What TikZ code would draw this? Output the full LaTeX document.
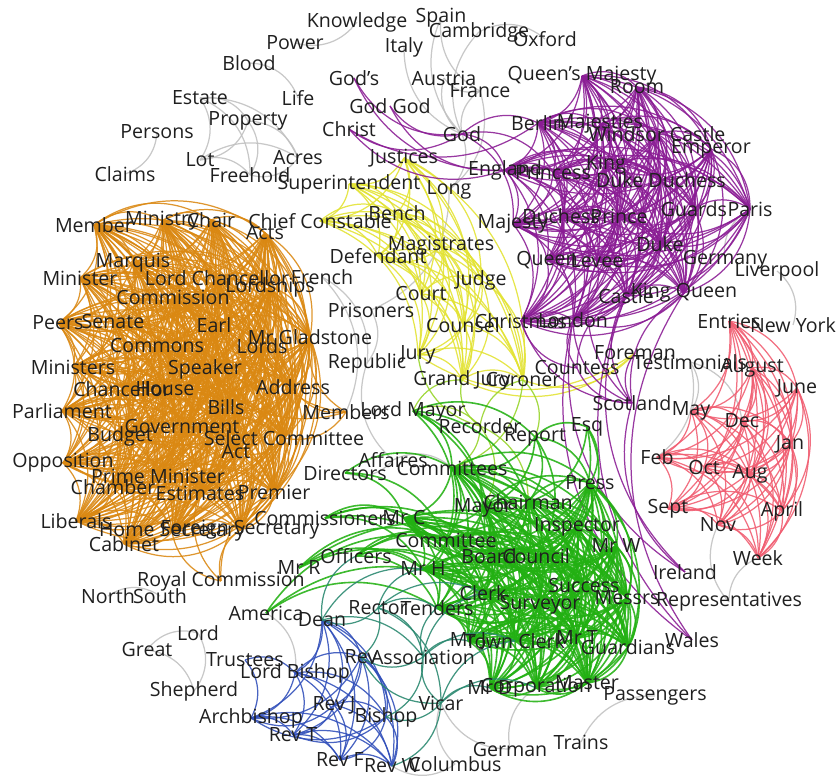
\documentclass[tikz,border=0pt]{standalone}
\usepackage{fontspec}
\setmainfont{Open Sans}
\usetikzlibrary{backgrounds}

\definecolor{orangeE}{RGB}{218,136,18}
\definecolor{yellowE}{RGB}{226,226,50}
\definecolor{purpleE}{RGB}{138,28,148}
\definecolor{greenE}{RGB}{34,176,18}
\definecolor{blueE}{RGB}{48,78,185}
\definecolor{pinkE}{RGB}{240,92,112}
\definecolor{grayE}{RGB}{192,192,192}
\definecolor{tealE}{RGB}{40,135,110}
\definecolor{limeE}{RGB}{150,212,40}

\tikzset{
  word/.style={font=\fontsize{9.8}{11}\selectfont, inner sep=0pt, text=black!88},
  ln/.style={line width=0.62pt, bend left=34, opacity=0.88},
  eo/.style={ln, draw=orangeE},
  ey/.style={ln, draw=yellowE},
  ep/.style={ln, draw=purpleE},
  eg/.style={ln, draw=greenE, line width=0.8pt},
  eb/.style={ln, draw=blueE},
  er/.style={ln, draw=pinkE},
  ex/.style={ln, draw=grayE},
  et/.style={ln, draw=tealE},
  el/.style={ln, draw=limeE},
}

% every pair of a list, one curved edge
\newcommand{\clique}[2]{%
  \foreach \a [count=\i] in {#2}{%
    \foreach \b [count=\j] in {#2}{%
      \ifnum\j>\i \draw[#1] (\a.center) to (\b.center);\fi
    }%
  }%
}
% one edge from a node to several
\newcommand{\fan}[3]{%
  \foreach \b in {#3}{\draw[#1] (#2.center) to (\b.center);}%
}

\begin{document}
\begin{tikzpicture}[x=0.5pt, y=-0.5pt]
  \useasboundingbox (0,0) rectangle (840,779);

  % top left
  \node[word] (knowledge) at (357,22) {Knowledge} ; %
  \node[word] (power) at (295,43) {Power} ; %
  \node[word] (spain) at (441,18) {Spain} ; %
  \node[word] (cambridge) at (479,32) {Cambridge} ; %
  \node[word] (oxford) at (545,39) {Oxford} ; %
  \node[word] (italy) at (404,47) {Italy} ; %
  \node[word] (blood) at (249,63) {Blood} ; %
  \node[word] (life) at (298,98) {Life} ; %
  \node[word] (austria) at (444,78) {Austria} ; %
  \node[word] (france) at (480,91) {France} ; %
  \node[word] (estate) at (200,98) {Estate} ; %
  \node[word] (property) at (248,121) {Property} ; %
  \node[word] (persons) at (157,132) {Persons} ; %
  \node[word] (claims) at (125,174) {Claims} ; %
  \node[word] (lot) at (200,160) {Lot} ; %
  \node[word] (acres) at (298,158) {Acres} ; %
  \node[word] (freehold) at (250,175) {Freehold} ; %
  \node[word] (long) at (449,190) {Long} ; %

  % crown and church
  \node[word] (gods) at (354,78) {God's} ; %
  \node[word] (godgod) at (390,106) {God God} ; %
  \node[word] (christ) at (349,129) {Christ} ; %
  \node[word] (god) at (462,134) {God} ; %
  \node[word] (queensmajesty) at (582,76) {Queen's Majesty} ; %
  \node[word] (room) at (637,87) {Room} ; %
  \node[word] (berlin) at (538,123) {Berlin} ; %
  \node[word] (majesties) at (600,124) {Majesties} ; %
  \node[word] (windsor) at (657,134) {Windsor Castle} ; %
  \node[word] (emperor) at (711,149) {Emperor} ; %
  \node[word] (england) at (505,170) {England} ; %
  \node[word] (princess) at (553,172) {Princess} ; %
  \node[word] (king) at (606,165) {King} ; %
  \node[word] (dukeduchess) at (661,180) {Duke Duchess} ; %
  \node[word] (guards) at (694,209) {Guards} ; %
  \node[word] (paris) at (750,209) {Paris} ; %
  \node[word] (duchess) at (561,216) {Duchess} ; %
  \node[word] (prince) at (619,216) {Prince} ; %
  \node[word] (majesty) at (513,224) {Majesty} ; %
  \node[word] (duke) at (660,244) {Duke} ; %
  \node[word] (queen) at (547,260) {Queen} ; %
  \node[word] (levee) at (597,261) {Levee} ; %
  \node[word] (castle) at (626,296) {Castle} ; %
  \node[word] (kingqueen) at (684,293) {King Queen} ; %
  \node[word] (christmas) at (521,321) {Christmas} ; %
  \node[word] (london) at (573,320) {London} ; %
  \node[word] (countess) at (577,368) {Countess} ; %
  \node[word] (scotland) at (632,403) {Scotland} ; %
  \node[word] (ireland) at (685,572) {Ireland} ; %
  \node[word] (wales) at (692,640) {Wales} ; %
  \node[word] (germany) at (725,260) {Germany} ; %
  \node[word] (liverpool) at (777,271) {Liverpool} ; %
  \node[word] (newyork) at (793,325) {New York} ; %

  % parliament
  \node[word] (member) at (94,225) {Member} ; %
  \node[word] (ministry) at (162,221) {Ministry} ; %
  \node[word] (chair) at (211,220) {Chair} ; %
  \node[word] (acts) at (265,233) {Acts} ; %
  \node[word] (marquis) at (133,263) {Marquis} ; %
  \node[word] (minister) at (80,278) {Minister} ; %
  \node[word] (lordchancellor) at (217,278) {Lord Chancellor} ; %
  \node[word] (lordships) at (270,287) {Lordships} ; %
  \node[word] (commission) at (173,297) {Commission} ; %
  \node[word] (peers) at (58,323) {Peers} ; %
  \node[word] (senate) at (113,322) {Senate} ; %
  \node[word] (earl) at (214,325) {Earl} ; %
  \node[word] (gladstone) at (310,337) {Mr Gladstone} ; %
  \node[word] (lords) at (262,346) {Lords} ; %
  \node[word] (commons) at (157,346) {Commons} ; %
  \node[word] (ministers) at (73,367) {Ministers} ; %
  \node[word] (speaker) at (205,369) {Speaker} ; %
  \node[word] (chancellor) at (122,389) {Chancellor} ; %
  \node[word] (house) at (165,389) {House} ; %
  \node[word] (address) at (293,387) {Address} ; %
  \node[word] (parliament) at (62,411) {Parliament} ; %
  \node[word] (bills) at (226,407) {Bills} ; %
  \node[word] (budget) at (120,436) {Budget} ; %
  \node[word] (government) at (182,427) {Government} ; %
  \node[word] (selectcommittee) at (284,438) {Select Committee} ; %
  \node[word] (act) at (236,452) {Act} ; %
  \node[word] (opposition) at (63,463) {Opposition} ; %
  \node[word] (primeminister) at (158,476) {Prime Minister} ; %
  \node[word] (chamber) at (113,487) {Chamber} ; %
  \node[word] (estimates) at (200,493) {Estimates} ; %
  \node[word] (premier) at (274,492) {Premier} ; %
  \node[word] (liberals) at (76,521) {Liberals} ; %
  \node[word] (homesecretary) at (172,532) {Home Secretary} ; %
  \node[word] (foreignsecretary) at (240,530) {Foreign Secretary} ; %
  \node[word] (cabinet) at (124,544) {Cabinet} ; %
  \node[word] (royalcommission) at (221,581) {Royal Commission} ; %
  \node[word] (members) at (346,412) {Members} ; %

  % courts
  \node[word] (justices) at (404,158) {Justices} ; %
  \node[word] (superintendent) at (349,184) {Superintendent} ; %
  \node[word] (chiefconstable) at (320,221) {Chief Constable} ; %
  \node[word] (bench) at (397,213) {Bench} ; %
  \node[word] (magistrates) at (441,246) {Magistrates} ; %
  \node[word] (defendant) at (378,256) {Defendant} ; %
  \node[word] (french) at (322,277) {French} ; %
  \node[word] (court) at (421,294) {Court} ; %
  \node[word] (judge) at (481,280) {Judge} ; %
  \node[word] (prisoners) at (371,310) {Prisoners} ; %
  \node[word] (counsel) at (463,325) {Counsel} ; %
  \node[word] (jury) at (418,355) {Jury} ; %
  \node[word] (republic) at (367,363) {Republic} ; %
  \node[word] (grandjury) at (462,380) {Grand Jury} ; %
  \node[word] (coroner) at (523,380) {Coroner} ; %
  \node[word] (foreman) at (635,353) {Foreman} ; %

  % months
  \node[word] (entries) at (729,321) {Entries} ; %
  \node[word] (testimonials) at (690,362) {Testimonials} ; %
  \node[word] (august) at (752,368) {August} ; %
  \node[word] (june) at (797,388) {June} ; %
  \node[word] (may) at (691,411) {May} ; %
  \node[word] (dec) at (742,421) {Dec} ; %
  \node[word] (jan) at (790,444) {Jan} ; %
  \node[word] (feb) at (657,457) {Feb} ; %
  \node[word] (oct) at (704,467) {Oct} ; %
  \node[word] (aug) at (750,474) {Aug} ; %
  \node[word] (sept) at (668,509) {Sept} ; %
  \node[word] (april) at (782,511) {April} ; %
  \node[word] (nov) at (718,525) {Nov} ; %
  \node[word] (week) at (758,558) {Week} ; %
  \node[word] (representatives) at (729,602) {Representatives} ; %

  % town
  \node[word] (lordmayor) at (413,411) {Lord Mayor} ; %
  \node[word] (recorder) at (480,426) {Recorder} ; %
  \node[word] (report) at (535,437) {Report} ; %
  \node[word] (esq) at (587,427) {Esq} ; %
  \node[word] (affaires) at (393,460) {Affaires} ; %
  \node[word] (directors) at (345,473) {Directors} ; %
  \node[word] (committees) at (452,468) {Committees} ; %
  \node[word] (mayor) at (483,508) {Mayor} ; %
  \node[word] (chairman) at (528,502) {Chairman} ; %
  \node[word] (press) at (590,483) {Press} ; %
  \node[word] (inspector) at (577,527) {Inspector} ; %
  \node[word] (commissioners) at (325,518) {Commissioners} ; %
  \node[word] (mrc) at (404,518) {Mr C} ; %
  \node[word] (committee) at (446,540) {Committee} ; %
  \node[word] (mrw) at (616,546) {Mr W} ; %
  \node[word] (officers) at (356,556) {Officers} ; %
  \node[word] (board) at (489,556) {Board} ; %
  \node[word] (council) at (536,556) {Council} ; %
  \node[word] (mrr) at (299,568) {Mr R} ; %
  \node[word] (mrh) at (423,569) {Mr H} ; %
  \node[word] (success) at (584,586) {Success} ; %
  \node[word] (clerk) at (483,593) {Clerk} ; %
  \node[word] (messrs) at (627,598) {Messrs} ; %
  \node[word] (surveyor) at (540,605) {Surveyor} ; %
  \node[word] (rector) at (378,608) {Rector} ; %
  \node[word] (tenders) at (437,608) {Tenders} ; %
  \node[word] (america) at (266,613) {America} ; %
  \node[word] (mrt) at (577,638) {Mr T} ; %
  \node[word] (mrj) at (468,641) {Mr J} ; %
  \node[word] (townclerk) at (515,641) {Town Clerk} ; %
  \node[word] (guardians) at (628,647) {Guardians} ; %
  \node[word] (master) at (587,683) {Master} ; %
  \node[word] (mrd) at (490,688) {Mr D} ; %
  \node[word] (corporation) at (536,688) {Corporation} ; %
  \node[word] (passengers) at (655,696) {Passengers} ; %
  \node[word] (trains) at (581,742) {Trains} ; %
  \node[word] (german) at (510,749) {German} ; %
  \node[word] (columbus) at (455,764) {Columbus} ; %

  % clergy
  \node[word] (dean) at (322,620) {Dean} ; %
  \node[word] (rev) at (361,657) {Rev} ; %
  \node[word] (association) at (423,657) {Association} ; %
  \node[word] (trustees) at (245,660) {Trustees} ; %
  \node[word] (lordbishop) at (295,673) {Lord Bishop} ; %
  \node[word] (vicar) at (441,703) {Vicar} ; %
  \node[word] (revj) at (334,705) {Rev J} ; %
  \node[word] (bishop) at (386,717) {Bishop} ; %
  \node[word] (archbishop) at (251,718) {Archbishop} ; %
  \node[word] (revt) at (293,735) {Rev T} ; %
  \node[word] (revf) at (340,760) {Rev F} ; %
  \node[word] (revw) at (392,766) {Rev W} ; %

  % small groups
  \node[word] (north) at (108,596) {North} ; %
  \node[word] (south) at (160,596) {South} ; %
  \node[word] (lord) at (198,633) {Lord} ; %
  \node[word] (great) at (147,650) {Great} ; %
  \node[word] (shepherd) at (194,691) {Shepherd} ; %

  \begin{scope}[on background layer]
    % gray
    \clique{ex}{estate,property,lot,acres,freehold}
    \clique{ex}{great,lord,shepherd}
    \draw[ex] (knowledge.center) to (power.center);
    \draw[ex] (blood.center) to (life.center);
    \draw[ex] (persons.center) to (claims.center);
    \draw[ex] (north.center) to (south.center);
    \draw[ex] (liverpool.center) to (newyork.center);
    \draw[ex] (trains.center) to (passengers.center);
    \draw[ex] (cambridge.center) to (oxford.center);
    \fan{ex}{god}{italy,austria,france,cambridge,spain,long}
    \fan{ex}{france}{spain,austria,long}
    \draw[ex] (long.center) to (prisoners.center);
    \fan{ex}{french}{members,republic}
    \draw[ex] (prisoners.center) to (republic.center);
    \fan{ex}{affaires}{republic,directors,committees}
    \draw[ex] (germany.center) to (paris.center);
    \fan{ex}{testimonials}{feb,may,dec}
    \fan{ex}{representatives}{week,nov}
    \fan{ex}{german}{vicar,corporation}
    \fan{ex}{columbus}{vicar,revw}
    \draw[ex] (america.center) to (lordbishop.center);
    % parliament
    \clique{eo}{member,ministry,chair,acts,marquis,minister,lordchancellor,lordships,commission,peers,senate,earl,gladstone,lords,commons,ministers,speaker,chancellor,house,address,parliament,bills,budget,government,selectcommittee,act,opposition,primeminister,chamber,estimates,premier,liberals,homesecretary,foreignsecretary,cabinet}
    \fan{eo}{royalcommission}{foreignsecretary,homesecretary,estimates,premier}
    \fan{eo}{members}{address,gladstone,selectcommittee,lords,speaker}
    % courts
    \clique{ey}{justices,superintendent,chiefconstable,bench,magistrates,defendant,court,judge,counsel,jury,grandjury,coroner}
    \fan{ey}{foreman}{coroner,grandjury,jury}
    \fan{el}{recorder}{coroner,grandjury,jury,committees,mayor,chairman}
    \fan{el}{coroner}{report,committees}
    \fan{el}{lordmayor}{grandjury,recorder}
    % crown
    \clique{ep}{queensmajesty,room,berlin,majesties,windsor,emperor,england,princess,king,dukeduchess,guards,paris,duchess,prince,majesty,duke,queen,levee,castle,kingqueen,christmas,london}
    \fan{ep}{god}{gods,godgod,christ,england,berlin,majesty,princess}
    \fan{ep}{england}{gods,godgod,christ}
    \draw[ep] (berlin.center) to (christ.center);
    \fan{ep}{scotland}{london,castle,christmas,kingqueen,countess,levee,foreman}
    \fan{ep}{ireland}{london,castle,scotland}
    \fan{ep}{wales}{london,castle,kingqueen}
    \fan{ep}{countess}{london,christmas,castle}
    % months
    \clique{er}{entries,august,june,may,dec,jan,feb,oct,aug,sept,april,nov,week}
    % town
    \clique{eg}{committees,mayor,chairman,press,inspector,mrw,committee,board,council,mrc,mrh,success,messrs,clerk,surveyor,tenders,mrj,townclerk,mrt,guardians,master,corporation,mrd}
    \fan{eg}{lordmayor}{committees,mayor,chairman,committee,report,board}
    \fan{eg}{report}{chairman,committees,press,esq,council,mayor}
    \fan{eg}{esq}{press,chairman,council,inspector}
    \fan{eg}{officers}{mrh,committee,clerk,tenders,council,board}
    \fan{eg}{mrr}{committee,mrh,clerk,council}
    \fan{eg}{commissioners}{committee,mrc,board,mrh,clerk}
    \fan{eg}{america}{clerk,committee,tenders}
    \fan{eg}{directors}{committees,committee,mrc}
    % clergy
    \clique{eb}{dean,lordbishop,rev,revj,bishop,archbishop,revt,revf,revw}
    \fan{eb}{trustees}{lordbishop,archbishop}
    \fan{et}{rector}{dean,rev,association,vicar,tenders,mrh,clerk}
    \fan{et}{vicar}{association,bishop,rev,revw,mrd,corporation,townclerk}
    \fan{et}{association}{rev,bishop,tenders,mrj,townclerk,clerk}
    \fan{et}{dean}{association,mrh,officers}
  \end{scope}
\end{tikzpicture}
\end{document}
